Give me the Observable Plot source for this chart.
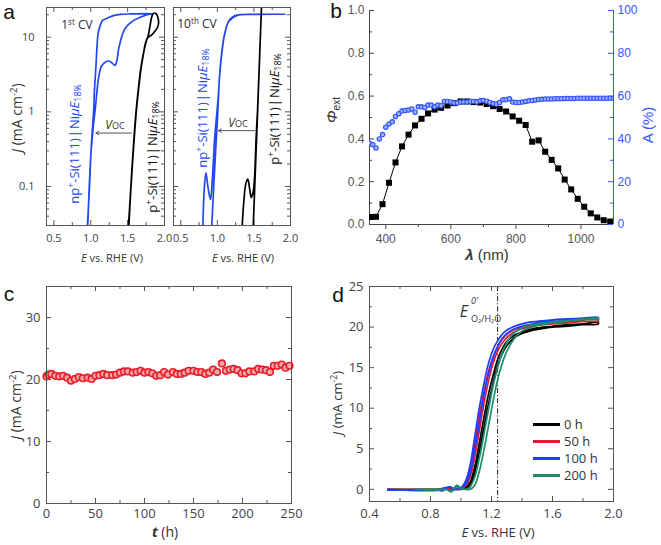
<!DOCTYPE html>
<html><head><meta charset="utf-8">
<script src="https://cdn.jsdelivr.net/npm/d3@7"></script>
<script src="https://cdn.jsdelivr.net/npm/@observablehq/plot@0.6"></script>
<style>
body{margin:0;background:#fff;}
#fig{position:relative;width:661px;height:545px;overflow:hidden;font-family:"Open Sans",sans-serif;color:#333;background:#fff;}
.t{position:absolute;white-space:nowrap;line-height:1;}
.t sup{font-size:0.68em;vertical-align:0.55em;line-height:0;}
.t sub{font-size:0.68em;vertical-align:-0.3em;line-height:0;}
</style></head><body><div id="fig"></div>
<script>
// ---------------- DATA ----------------
// Panel a (1st CV): [E (V vs RHE), J (mA cm^-2)]
const npSi1st = [[0.96,0.03],[0.98,0.1],[1.005,0.3],[1.035,0.65],[1.06,1.06],[1.08,1.7],[1.095,2.4],[1.115,3.2],[1.14,4.0],[1.18,4.5],[1.245,4.8],[1.29,4.5],[1.33,4.2],[1.355,4.9],[1.375,6.7],[1.405,9.0],[1.435,11.3],[1.475,13.5],[1.525,15.2],[1.6,17.2],[1.685,18.7],[1.776,20.2],[1.85,20.6],[1.75,20.7],[1.55,20.5],[1.4,20.2],[1.32,19.6],[1.25,18.5],[1.2,17.5],[1.16,16.8],[1.13,14.5],[1.1,11.2],[1.085,7.5],[1.07,4.0],[1.05,1.9],[1.04,1.06],[1.02,0.55],[1.0,0.25],[0.985,0.11],[0.955,0.03]];
const pSi1st = [[1.517,0.03],[1.54,0.08],[1.565,0.2],[1.59,0.45],[1.617,1.0],[1.65,2.1],[1.685,4.0],[1.715,6.0],[1.74,8.2],[1.77,9.8],[1.8,10.3],[1.83,10.8],[1.87,12],[1.905,13.5],[1.92,15.5],[1.91,18.5],[1.89,20.5],[1.865,21.1],[1.84,20.3],[1.82,17.5],[1.8,13.5],[1.78,10.6],[1.75,8.6],[1.715,6.1],[1.68,3.9],[1.645,2.0],[1.612,0.95],[1.585,0.42],[1.56,0.18],[1.535,0.07],[1.512,0.03]];
// Panel a (10th CV)
const npSi10th = [[0.80,0.025],[0.82,0.09],[0.843,0.152],[0.87,0.1],[0.905,0.067],[0.93,0.12],[0.96,0.4],[0.985,0.8],[1.01,1.5],[1.04,4],[1.07,7.5],[1.1,11.2],[1.16,16.8],[1.22,19],[1.27,19.8],[1.4,20.2],[1.6,20.3],[1.92,20.3],[1.5,20.2],[1.27,19.6],[1.16,16.5],[1.1,11],[1.06,6],[1.03,3],[1.006,1.0],[0.98,0.35],[0.95,0.1],[0.92,0.025]];
const pSi10th = [[1.335,0.025],[1.36,0.06],[1.39,0.11],[1.416,0.126],[1.44,0.095],[1.463,0.071],[1.49,0.085],[1.51,0.14],[1.53,0.45],[1.55,1.07],[1.58,6.4],[1.61,38],[1.58,6.2],[1.55,1.0],[1.52,0.17],[1.49,0.028]];
const vocA1 = [{from: 1.55, to: 1.07, j: 0.52}];
const vocA2 = [{from: 1.508, to: 1.015, j: 0.56}];
const aXMajor = [0.5, 1.0, 1.5, 2.0], aXMinor = [0.75, 1.25, 1.75];
const aYMajor = [0.1, 1, 10];
const aYMinor = [0.03,0.04,0.05,0.06,0.07,0.08,0.09,0.2,0.3,0.4,0.5,0.6,0.7,0.8,0.9,2,3,4,5,6,7,8,9,20];

// Panel b
const lamPhi = [355,370,390,410,430,450,470,490,510,530,550,570,590,610,630,650,670,690,710,730,750,770,790,810,830,850,870,890,910,930,950,970,990,1010,1030,1050,1070,1090];
const phiExt = [0.035,0.036,0.095,0.195,0.29,0.365,0.42,0.463,0.494,0.519,0.537,0.545,0.556,0.567,0.575,0.575,0.572,0.57,0.563,0.553,0.54,0.528,0.505,0.485,0.465,0.387,0.393,0.34,0.302,0.262,0.21,0.164,0.12,0.083,0.052,0.033,0.02,0.014];
const lamA = [350,360,370,380,390,400,410,420,430,440,450,460,470,480,490,500,510,520,530,540,550,560,570,580,590,600,610,620,630,640,650,660,670,680,690,700,710,720,730,740,750,760,770,780,790,800,810,820,830,840,850,860,870,880,890,900,910,920,930,940,950,960,970,980,990,1000,1010,1020,1030,1040,1050,1060,1070,1080,1090,1100];
const absA = [38,37.3,35.8,40,42,45.5,47,48,50.5,51.8,53,53.3,53.5,54,52.5,55,55,54.7,55.8,55.8,55,55.8,55.5,57.5,57.5,57.3,56.8,56.8,57.2,57.3,57.3,57.5,57.5,57.3,57.8,58,57.6,57,56.5,56.3,57,58.3,58.3,58.8,57.2,57,57,57.2,57.5,57.8,58,58.2,58.4,58.5,58.6,58.7,58.7,58.8,58.8,58.8,58.9,58.9,58.9,58.9,59,59,59,59,59,59,59,59,59,59,59,59];
const bXMajor = [400,600,800,1000], bXMinor = [500,700,900];
const bYMajor = [0,0.2,0.4,0.6,0.8,1.0], bYMinor = [0.1,0.3,0.5,0.7,0.9];
const bAMajor = [0,20,40,60,80,100], bAMinor = [10,30,50,70,90];

// Panel c
const tHours = [0,2,5,9,13,17,21,25,29,33,37,42,46,50,54,58,62,67,71,75,79,83,88,92,96,100,104,108,112,116,120,124,129,133,137,141,145,150,154,158,162,166,170,174,179,183,187,191,195,199,203,207,212,216,220,224,228,232,236,240,244,248];
const jStab = [20.5,20.8,20.9,20.6,20.5,20.6,20.3,19.8,20.1,20.4,20.2,20.3,20.1,20.6,20.7,20.9,20.7,20.7,20.8,21.1,21.3,21.3,21.1,21.2,21.4,21.1,21.2,21.0,20.6,20.7,21.2,20.8,21.2,20.9,20.9,21.1,21.4,21.4,21.2,21.2,20.9,21.1,21.6,21.2,22.6,21.4,21.6,21.7,21.5,21.0,21.0,21.3,21.3,21.7,21.6,21.5,21.2,22.2,22.2,22.4,21.9,22.2];
const cXMajor = [0,50,100,150,200,250], cXMinor = [25,75,125,175,225];
const cYMajor = [0,10,20,30], cYMinor = [5,15,25];

// Panel d : CV curves after 0, 50, 100, 200 h (forward + reverse branches)
const cv0h = [[0.52,0],[0.7,0],[0.85,0],[0.9,0.05],[0.95,0],[1.0,0],[1.03,0.1],[1.06,0.5],[1.09,2],[1.12,4.5],[1.15,7.5],[1.18,10.5],[1.21,13],[1.24,15.2],[1.27,16.7],[1.3,17.7],[1.35,18.7],[1.4,19.2],[1.45,19.5],[1.5,19.7],[1.6,20.0],[1.7,20.1],[1.8,20.3],[1.9,20.4],[1.9,20.6],[1.8,20.4],[1.7,20.3],[1.6,20.1],[1.5,19.9],[1.45,19.7],[1.4,19.4],[1.35,19],[1.3,18.2],[1.27,17.3],[1.24,16],[1.21,14],[1.18,11.7],[1.15,8.8],[1.12,5.7],[1.09,2.8],[1.06,0.9],[1.03,0.2],[1.0,0],[0.95,0.1],[0.9,0.1],[0.85,0],[0.7,0],[0.52,0]];
const cv50h = [[0.52,0],[0.85,0],[0.9,0.1],[0.95,0],[1.0,0.05],[1.03,0.4],[1.06,1.5],[1.09,4],[1.12,7.2],[1.15,10.5],[1.18,13.3],[1.21,15.5],[1.24,17],[1.27,18],[1.3,18.7],[1.35,19.4],[1.4,19.8],[1.45,20.0],[1.5,20.2],[1.6,20.4],[1.7,20.5],[1.8,20.7],[1.9,20.8],[1.9,21.0],[1.8,20.9],[1.7,20.7],[1.6,20.6],[1.5,20.4],[1.45,20.2],[1.4,20.0],[1.35,19.7],[1.3,19.1],[1.27,18.5],[1.24,17.6],[1.21,16.3],[1.18,14.5],[1.15,12],[1.12,9],[1.09,5.5],[1.06,2.3],[1.03,0.7],[1.0,0.1],[0.95,0.1],[0.9,0.2],[0.85,0],[0.52,0]];
const cv100h = [[0.52,0],[0.85,-0.1],[0.9,0.2],[0.93,0.3],[0.95,0.1],[1.0,0.1],[1.03,0.6],[1.06,2],[1.09,4.8],[1.12,8.2],[1.15,11.5],[1.18,14.2],[1.21,16.2],[1.24,17.6],[1.27,18.6],[1.3,19.2],[1.35,19.8],[1.4,20.1],[1.45,20.3],[1.5,20.5],[1.6,20.7],[1.7,20.8],[1.8,21.0],[1.9,21.1],[1.9,21.2],[1.8,21.1],[1.7,21.0],[1.6,20.9],[1.5,20.7],[1.45,20.6],[1.4,20.4],[1.35,20.1],[1.3,19.6],[1.27,19.1],[1.24,18.3],[1.21,17.2],[1.18,15.5],[1.15,13],[1.12,10],[1.09,6.5],[1.06,3],[1.03,1],[1.0,0.2],[0.95,0],[0.92,0.3],[0.88,-0.2],[0.85,-0.1],[0.52,-0.1]];
const cv200h = [[0.7,0],[0.85,-0.1],[0.9,0],[0.94,-0.3],[0.97,0.5],[1.0,0.2],[1.03,0],[1.06,0],[1.09,0.5],[1.12,2.2],[1.15,4.8],[1.18,7.8],[1.21,10.8],[1.24,13.5],[1.27,15.5],[1.3,17],[1.35,18.6],[1.4,19.5],[1.45,19.9],[1.5,20.2],[1.6,20.5],[1.7,20.7],[1.8,20.9],[1.9,21.0],[1.9,21.1],[1.8,21.0],[1.7,20.8],[1.6,20.6],[1.5,20.4],[1.45,20.2],[1.4,19.9],[1.35,19.3],[1.3,18.1],[1.27,16.8],[1.24,15],[1.21,12.7],[1.18,9.8],[1.15,6.7],[1.12,3.8],[1.09,1.5],[1.06,0.3],[1.03,0],[1.0,0.1],[0.97,0.3],[0.94,-0.2],[0.9,0],[0.85,0],[0.7,0]];
const eO2 = [1.24];
const legendLabels = ["0 h", "50 h", "100 h", "200 h"];
const dXMajor = [0.4,0.8,1.2,1.6,2.0], dXMinor = [0.6,1.0,1.4,1.8];
const dYMajor = [0,5,10,15,20,25], dYMinor = [2.5,7.5,12.5,17.5,22.5];

// ---------------- STYLE ----------------
const FONT = '"Open Sans", sans-serif';
const BLUE_A = "#2347ee", BLUE_B = "#3556ff";
const dColors = ["#000000", "#e3192d", "#1f3dff", "#1d8b6c"];
const FRAME = "#555";

const fig = document.getElementById("fig");
function place(svg, left, top) {
  svg.style.position = "absolute";
  svg.style.left = left + "px";
  svg.style.top = top + "px";
  svg.style.overflow = "visible";
  fig.appendChild(svg);
}
function txt(html, x, y, o = {}) {
  const d = document.createElement("div");
  d.className = "t";
  d.innerHTML = html;
  d.style.left = x + "px";
  d.style.top = y + "px";
  d.style.fontSize = (o.size || 12) + "px";
  d.style.color = o.color || "#333";
  if (o.family) d.style.fontFamily = o.family;
  const tx = o.anchor === "start" ? "0" : o.anchor === "end" ? "-100%" : "-50%";
  d.style.transform = `translate(${tx},-50%)` + (o.rot ? ` rotate(${o.rot}deg)` : "");
  fig.appendChild(d);
  return d;
}
function boxTicks({xMaj = [], xMin = [], yMaj = [], yMin = [], iw, ih, major = 5, minor = 3, stroke = FRAME, sides = "tblr"}) {
  const m = [];
  const tx = (vals, len) => {
    if (sides.includes("b")) m.push(Plot.tickX(vals, {x: d => d, insetTop: ih - len, stroke}));
    if (sides.includes("t")) m.push(Plot.tickX(vals, {x: d => d, insetBottom: ih - len, stroke}));
  };
  const ty = (vals, len) => {
    if (sides.includes("l")) m.push(Plot.tickY(vals, {y: d => d, insetRight: iw - len, stroke}));
    if (sides.includes("r")) m.push(Plot.tickY(vals, {y: d => d, insetLeft: iw - len, stroke}));
  };
  tx(xMaj, major); tx(xMin, minor); ty(yMaj, major); ty(yMin, minor);
  return m;
}
const f1 = d3.format(".1f");

// ---------------- PANEL a (1st CV) ----------------
place(Plot.plot({
  width: 170, height: 245, marginLeft: 46, marginRight: 6, marginTop: 7, marginBottom: 20,
  style: {background: "transparent", fontFamily: FONT, fontSize: "11px", color: "#444"},
  x: {domain: [0.4, 2.0], axis: null},
  y: {type: "log", domain: [0.03, 25], axis: null},
  marks: [
    ...boxTicks({xMaj: aXMajor, xMin: aXMinor, yMaj: aYMajor, yMin: aYMinor, iw: 118, ih: 218}),
    Plot.line(npSi1st, {stroke: BLUE_A, strokeWidth: 1.7, curve: "catmull-rom", clip: true}),
    Plot.line(pSi1st, {stroke: "#000", strokeWidth: 1.7, curve: "catmull-rom", clip: true}),
    Plot.arrow(vocA1, {x1: "from", x2: "to", y1: "j", y2: "j", stroke: "#555", strokeWidth: 1, headLength: 5}),
    Plot.frame({stroke: FRAME}),
    Plot.axisX({ticks: aXMajor, tickSize: 0, tickPadding: 9, tickFormat: f1, label: null}),
    Plot.axisY({ticks: aYMajor, tickSize: 0, tickPadding: 12, tickFormat: d => String(d), label: null})
  ]
}), 0, 0);

// ---------------- PANEL a (10th CV) ----------------
place(Plot.plot({
  width: 140, height: 245, marginLeft: 13, marginRight: 10, marginTop: 7, marginBottom: 20,
  style: {background: "transparent", fontFamily: FONT, fontSize: "11px", color: "#444"},
  x: {domain: [0.4, 2.0], axis: null},
  y: {type: "log", domain: [0.03, 25], axis: null},
  marks: [
    ...boxTicks({xMaj: aXMajor, xMin: aXMinor, yMaj: aYMajor, yMin: aYMinor, iw: 117, ih: 218}),
    Plot.line(npSi10th, {stroke: BLUE_A, strokeWidth: 1.7, curve: "catmull-rom", clip: true}),
    Plot.line(pSi10th, {stroke: "#000", strokeWidth: 1.7, curve: "catmull-rom", clip: true}),
    Plot.arrow(vocA2, {x1: "from", x2: "to", y1: "j", y2: "j", stroke: "#555", strokeWidth: 1, headLength: 5}),
    Plot.frame({stroke: FRAME}),
    Plot.axisX({ticks: aXMajor, tickSize: 0, tickPadding: 9, tickFormat: f1, label: null})
  ]
}), 160, 0);

// ---------------- PANEL b ----------------
const phiData = lamPhi.map((l, i) => ({l, v: phiExt[i]}));
const absData = lamA.map((l, i) => ({l, v: absA[i]}));
const bStyle = {background: "transparent", fontFamily: '"Liberation Sans", Arial, sans-serif', fontSize: "12px", color: "#555"};
place(Plot.plot({
  width: 341, height: 245, marginLeft: 49, marginRight: 48, marginTop: 10, marginBottom: 21,
  style: bStyle,
  x: {domain: [350, 1100], axis: null},
  y: {domain: [0, 1], axis: null},
  marks: [
    ...boxTicks({yMaj: bYMajor, yMin: bYMinor, iw: 244, ih: 214, sides: "l", stroke: "#444"}),
    Plot.ruleX([350], {stroke: "#444"}),
    Plot.ruleY([0], {stroke: "#444"}),
    Plot.line(phiData, {x: "l", y: "v", stroke: "#000", strokeWidth: 1}),
    Plot.dot(phiData, {x: "l", y: "v", symbol: "square", r: 3.4, fill: "#000", clip: true}),
    Plot.axisX({ticks: bXMajor, tickSize: 5, tickPadding: 5, tickFormat: d => String(d), stroke: "#444", label: null}),
    Plot.axisX({ticks: bXMinor, tickSize: 3, tickFormat: () => "", stroke: "#444", label: null}),
    Plot.axisY({ticks: bYMajor, tickSize: 0, tickPadding: 5, tickFormat: f1, label: null})
  ]
}), 320, 0);
place(Plot.plot({
  width: 341, height: 245, marginLeft: 49, marginRight: 48, marginTop: 10, marginBottom: 21,
  style: Object.assign({}, bStyle, {color: BLUE_B}),
  x: {domain: [350, 1100], axis: null},
  y: {domain: [0, 100], axis: null},
  marks: [
    ...boxTicks({yMaj: bAMajor, yMin: bAMinor, iw: 244, ih: 214, sides: "r", stroke: BLUE_B}),
    Plot.ruleX([1100], {stroke: BLUE_B}),
    Plot.dot(absData, {x: "l", y: "v", r: 2.2, stroke: "#2f50ff", strokeWidth: 1.1, fill: "#9fb0ff", clip: true}),
    Plot.axisY({anchor: "right", ticks: bAMajor, tickSize: 0, tickPadding: 4, fill: BLUE_B, label: null})
  ]
}), 320, 0);

// ---------------- PANEL c ----------------
const stabData = tHours.map((t, i) => ({t, j: jStab[i]}));
place(Plot.plot({
  width: 330, height: 275, marginLeft: 46, marginRight: 39, marginTop: 16, marginBottom: 42,
  style: {background: "transparent", fontFamily: FONT, fontSize: "13px", color: "#444"},
  x: {domain: [0, 250], axis: null},
  y: {domain: [0, 35], axis: null},
  marks: [
    ...boxTicks({xMaj: cXMajor, xMin: cXMinor, yMaj: cYMajor, yMin: cYMinor, iw: 245, ih: 217}),
    Plot.dot(stabData, {x: "t", y: "j", r: 3.3, stroke: "#ea1c26", strokeWidth: 1.6, fill: "#f6a7ac"}),
    Plot.frame({stroke: FRAME}),
    Plot.axisX({ticks: cXMajor, tickSize: 0, tickPadding: 5, label: null}),
    Plot.axisY({ticks: cYMajor, tickSize: 0, tickPadding: 6, label: null})
  ]
}), 0, 270);

// ---------------- PANEL d ----------------
const cvSeries = [cv0h, cv50h, cv100h, cv200h];
place(Plot.plot({
  width: 331, height: 275, marginLeft: 39, marginRight: 48, marginTop: 16, marginBottom: 44,
  style: {background: "transparent", fontFamily: FONT, fontSize: "13px", color: "#444"},
  x: {domain: [0.4, 2.0], axis: null},
  y: {domain: [-1.5, 25], axis: null},
  marks: [
    ...boxTicks({xMaj: dXMajor, xMin: dXMinor, yMaj: dYMajor, yMin: dYMinor, iw: 244, ih: 215}),
    Plot.ruleX(eO2, {stroke: "#222", strokeWidth: 1, strokeDasharray: "5,2,1.2,2"}),
    ...cvSeries.map((s, i) => Plot.line(s, {stroke: dColors[i], strokeWidth: 1.7, curve: "catmull-rom", clip: true})),
    Plot.frame({stroke: FRAME}),
    Plot.axisX({ticks: dXMajor, tickSize: 0, tickPadding: 7, tickFormat: f1, label: null}),
    Plot.axisY({ticks: dYMajor, tickSize: 0, tickPadding: 6, label: null})
  ]
}), 330, 270);

// ---------------- TEXT ----------------
const LET = '"Liberation Sans", Arial, sans-serif';
txt("a", 9, 11, {size: 21, family: LET, color: "#111"});
txt("b", 336, 10, {size: 21, family: LET, color: "#111"});
txt("c", 9, 293, {size: 21, family: LET, color: "#111"});
txt("d", 338, 294, {size: 21, family: LET, color: "#111"});

// panel a
txt("1<sup>st</sup> CV", 77, 25, {size: 12, color: "#2a2a44"});
txt("10<sup>th</sup> CV", 197, 24, {size: 12, color: "#2a2a2a"});
const npLab = 'np<sup>+</sup>-Si(111)<span style="margin:0 1px">|</span>Ni<i>μE</i><sub>18%</sub>';
const pLab = 'p<sup>+</sup>-Si(111)<span style="margin:0 1px">|</span>Ni<i>μE</i><sub>18%</sub>';
txt(npLab, 74, 144, {size: 13, color: BLUE_A, rot: -90});
txt(pLab, 152, 157, {size: 13, color: "#111", rot: -90});
txt(npLab, 202, 108, {size: 13, color: BLUE_A, rot: -90});
txt(pLab, 274, 109, {size: 13, color: "#111", rot: -90});
const vocLab = '<i>V</i><span style="font-size:0.75em">OC</span>';
txt(vocLab, 115, 125, {size: 12});
txt(vocLab, 238, 123, {size: 12});
txt("<i>E</i> vs. RHE (V)", 112, 257, {size: 11});
txt("<i>E</i> vs. RHE (V)", 243, 257, {size: 11});
txt("<i>J</i> (mA cm<sup>-2</sup>)", 17, 118, {size: 14, rot: -90});

// panel b
txt("<b><i>λ</i></b> (nm)", 487, 254, {size: 15, family: LET, color: "#333"});
txt("<i>Φ</i><sub>ext</sub>", 331, 110, {size: 15, family: LET, color: "#333", rot: -90});
txt("A (%)", 647, 125, {size: 15, family: LET, color: BLUE_B, rot: -90});

// panel c
txt("<b><i>t</i></b> (h)", 165, 532, {size: 14});
txt("<i>J</i> (mA cm<sup>-2</sup>)", 16, 405, {size: 14, rot: -90});

// panel d
txt("<i>E</i> vs. RHE (V)", 498, 532, {size: 13});
txt("<i>J</i> (mA cm<sup>-2</sup>)", 337, 403, {size: 13, rot: -90});
txt("<i>E</i>", 464, 311, {size: 16});
txt("<i>0′</i>", 471, 300, {size: 9, anchor: "start"});
txt("O₂/H₂O", 471, 318, {size: 9, anchor: "start"});
legendLabels.forEach((lab, i) => {
  const y = 424 + i * 17;
  const ln = document.createElement("div");
  ln.style.cssText = `position:absolute;left:533px;top:${y - 1.5}px;width:27px;height:3px;background:${dColors[i]}`;
  fig.appendChild(ln);
  txt(lab, 564, y, {size: 13, anchor: "start"});
});
</script></body></html>
